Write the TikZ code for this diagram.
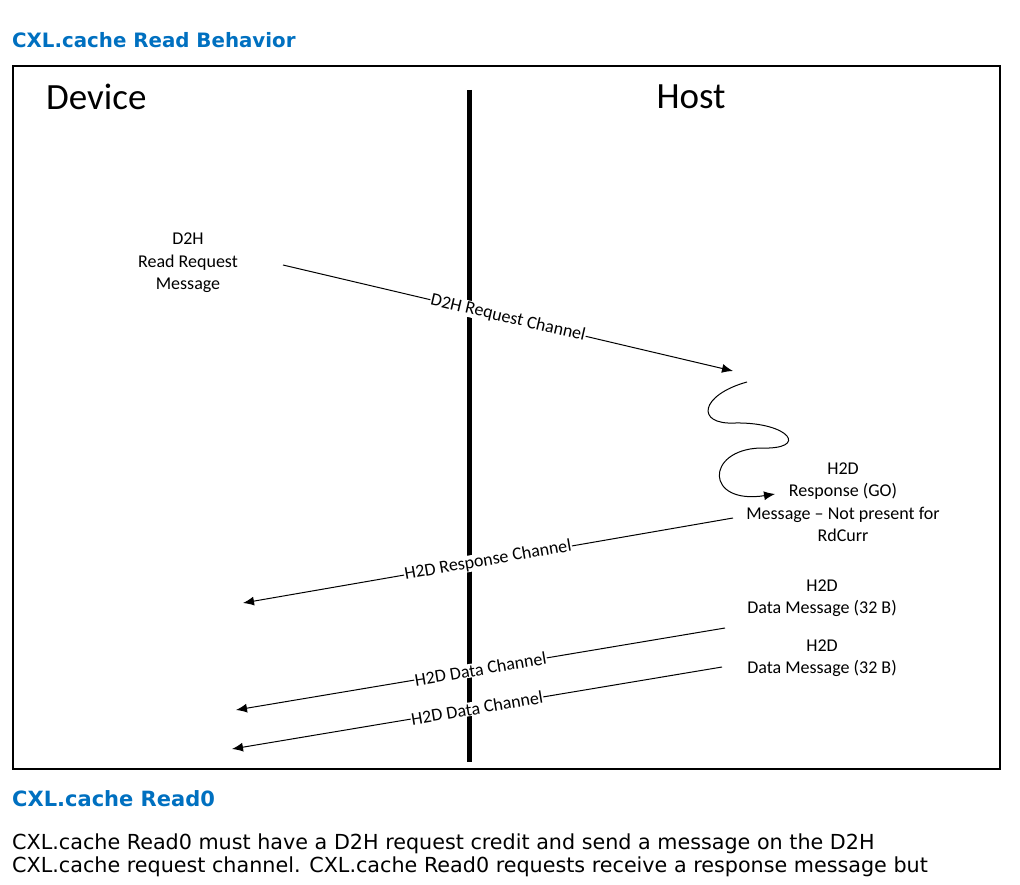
\documentclass[tikz,border=0pt]{standalone}
\usepackage{fontspec}
\setmainfont{Carlito}
\newfontfamily\verd{DejaVu Sans}
\usetikzlibrary{arrows.meta,positioning,calc}
\definecolor{cxlblue}{RGB}{0,112,192}
\begin{document}
\begin{tikzpicture}
[x=1pt,y=-1pt,
msg/.style={align=center,font=\fontsize{18}{22.5}\selectfont},
chan/.style={line width=1pt,-{Latex[length=11pt,width=9pt]}},
chlabel/.style={midway,sloped,fill=white,inner sep=0.5pt,font=\fontsize{18}{20}\selectfont},
head/.style={font=\verd\bfseries\fontsize{19.8}{22}\selectfont,text=cxlblue,anchor=base west,inner sep=0pt}]
\useasboundingbox (0,0) rectangle (1020,885);
%%
% frame and titles
%%
\node[head] (title) at (12,48) {CXL.cache Read Behavior};
\draw[line width=2pt] (13,66) rectangle (1000,769);
\node[font=\fontsize{37}{40}\selectfont,anchor=west,inner sep=0pt] (dev) at (46,97) {Device};
\node[font=\fontsize{37}{40}\selectfont,inner sep=0pt] (host) at (691,97) {Host};
\coordinate (top) at (469,90);
\coordinate (bot) at (469,762);
\draw[line width=5pt] (top) -- (bot);
%%
% D2H request
%%
\node[msg] (req) at (188,263) {D2H\\Read Request\\Message};
\coordinate (reqs) at (283,265);
\coordinate (reqe) at (733,371);
\draw[chan] (reqs) -- (reqe) node[chlabel] {D2H Request Channel};
%%
% host processing
%%
\coordinate (wig) at (747,382);
\coordinate (wige) at (775,494);
\draw[line width=1pt,-{Latex[length=11pt,width=9pt]}] (wig) .. controls (700,395) and (695,425) .. (735,423)
.. controls (790,422) and (810,450) .. (760,448)
.. controls (705,450) and (705,505) .. (wige);
%%
% H2D response
%%
\node[msg] (rsp) at (843,502) {H2D\\Response (GO)\\Message -- Not present for\\RdCurr};
\coordinate (rsps) at (733,518);
\coordinate (rspe) at (243,603);
\draw[chan] (rsps) -- (rspe) node[chlabel] {H2D Response Channel};
%%
% H2D data
%%
\node[msg] (dat1) at (822,598) {H2D\\Data Message (32 B)};
\node[msg] (dat2) at (822,658) {H2D\\Data Message (32 B)};
\coordinate (d1s) at (725,628);
\coordinate (d1e) at (236,710);
\coordinate (d2s) at (722,667);
\coordinate (d2e) at (232,749);
\draw[chan] (d1s) -- (d1e) node[chlabel] {H2D Data Channel};
\draw[chan] (d2s) -- (d2e) node[chlabel] {H2D Data Channel};
%%
% text below
%%
\node[head,font=\verd\bfseries\fontsize{21}{22}\selectfont] (sub) at (12,806) {CXL.cache Read0};
\node[anchor=north west,inner sep=0pt,align=left,font=\verd\fontsize{20.7}{23}\selectfont] (body) at (12,834)
{CXL.cache Read0 must have a D2H request credit and send a message on the D2H\\CXL.cache request channel. CXL.cache Read0 requests receive a response message but};
\end{tikzpicture}
\end{document}
